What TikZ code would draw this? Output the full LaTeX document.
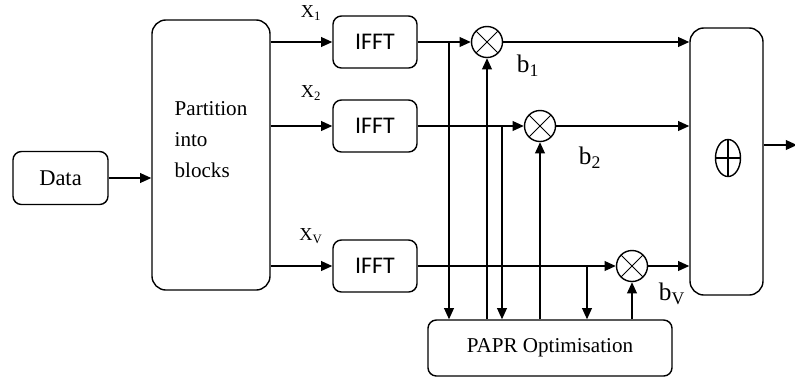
\documentclass[tikz,border=0pt]{standalone}
\usepackage{fontspec}
\setmainfont{Liberation Serif}
\newfontfamily\ifftfont{Carlito}
\usetikzlibrary{arrows.meta, shapes.geometric, positioning, calc}

\begin{document}
\begin{tikzpicture}[x=0.025cm, y=-0.025cm, line width=1pt,
    blk/.style={draw, rounded corners=6pt, inner sep=0pt, font=\fontsize{15}{17}\selectfont},
    ifftblk/.style={blk, minimum width=2.1cm, minimum height=1.3cm, font=\ifftfont\fontsize{17}{19}\selectfont},
    mult/.style={draw, circle, minimum size=0.775cm, inner sep=0pt,
      path picture={\draw[line width=0.6pt] (path picture bounding box.north west) -- (path picture bounding box.south east)
        (path picture bounding box.north east) -- (path picture bounding box.south west);}},
    arr/.style={-{Triangle[length=8pt,width=7pt]}},
    xlbl/.style={font=\fontsize{13}{15}\selectfont},
    blbl/.style={font=\fontsize{18}{20}\selectfont}]
  \useasboundingbox (0,0) rectangle (795,378);

  \node[blk, minimum width=2.375cm, minimum height=1.325cm, font=\fontsize{16}{18}\selectfont] (data) at (60.5,178) {Data};
  \node[blk, rounded corners=10pt, minimum width=2.95cm, minimum height=6.75cm] (part) at (211,155) {};
  \node[align=left, font=\fontsize{15}{22}\selectfont] (parttext) at (211,140) {Partition\\into\\blocks};

  \node[ifftblk] (ifft1) at (375,42) {IFFT};
  \node[ifftblk] (ifft2) at (375,126) {IFFT};
  \node[ifftblk] (ifft3) at (375,266) {IFFT};

  \node[mult] (mult1) at (487,42) {};
  \node[mult] (mult2) at (540,126) {};
  \node[mult] (mult3) at (632,266) {};

  \node[blk, minimum width=6.1cm, minimum height=1.4cm] (papr) at (550,348) {PAPR Optimisation};
  \node[blk, rounded corners=10pt, minimum width=1.825cm, minimum height=6.675cm] (comb) at (726.5,161.5) {};
  \node[draw, ellipse, minimum width=0.625cm, minimum height=0.925cm, inner sep=0pt,
    path picture={\draw (path picture bounding box.north) -- (path picture bounding box.south)
      (path picture bounding box.west) -- (path picture bounding box.east);}] (plus) at (728,158) {};

  \node[xlbl] (lx1) at (311,13) {X\textsubscript{1}};
  \node[xlbl] (lx2) at (311,93) {X\textsubscript{2}};
  \node[xlbl] (lx3) at (311,236) {X\textsubscript{V}};
  \node[blbl] (lb1) at (528,66) {b\textsubscript{1}};
  \node[blbl] (lb2) at (590,158) {b\textsubscript{2}};
  \node[blbl] (lb3) at (672,294) {b\textsubscript{V}};

  \draw[arr] (data.east) -- (data.east -| part.west);
  \draw[arr] (part.east |- ifft1) -- (ifft1);
  \draw[arr] (part.east |- ifft2) -- (ifft2);
  \draw[arr] (part.east |- ifft3) -- (ifft3);
  \draw[arr] (ifft1) -- (mult1);
  \draw[arr] (ifft2) -- (mult2);
  \draw[arr] (ifft3) -- (mult3);
  \draw[arr] (mult1) -- (mult1 -| comb.west);
  \draw[arr] (mult2) -- (mult2 -| comb.west);
  \draw[arr] (mult3) -- (mult3 -| comb.west);

  % taps down to the optimiser and weights back up
  \coordinate (tap1) at (449,42);
  \coordinate (tap2) at (502,126);
  \coordinate (tap3) at (587,266);
  \draw[arr] (tap1) -- (tap1 |- papr.north);
  \draw[arr] (tap2) -- (tap2 |- papr.north);
  \draw[arr] (tap3) -- (tap3 |- papr.north);
  \draw[arr] (mult1.south |- papr.north) -- (mult1.south);
  \draw[arr] (mult2.south |- papr.north) -- (mult2.south);
  \draw[arr] (mult3.south |- papr.north) -- (mult3.south);

  \coordinate (out) at (797,145);
  \draw[arr] (comb.east |- out) -- (out);
\end{tikzpicture}
\end{document}
